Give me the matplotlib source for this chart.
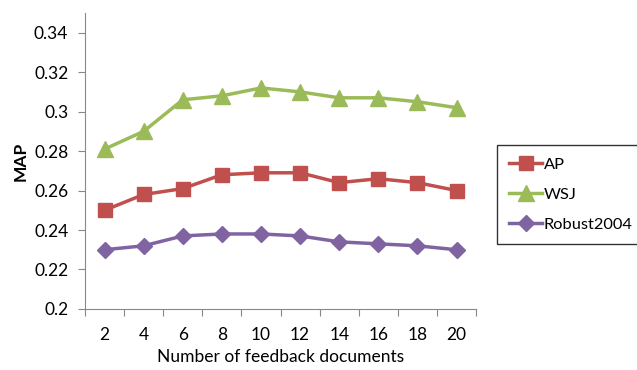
import numpy as np
import matplotlib.pyplot as plt

plt.rcParams['font.family'] = ['Lato', 'DejaVu Sans']

# MAP vs number of feedback documents
docs = [2, 4, 6, 8, 10, 12, 14, 16, 18, 20]
ap = [0.250, 0.258, 0.261, 0.268, 0.269, 0.269, 0.264, 0.266, 0.264, 0.260]
wsj = [0.281, 0.290, 0.306, 0.308, 0.312, 0.310, 0.307, 0.307, 0.305, 0.302]
robust = [0.230, 0.232, 0.237, 0.238, 0.238, 0.237, 0.234, 0.233, 0.232, 0.230]
y_ticks = [0.2, 0.22, 0.24, 0.26, 0.28, 0.3, 0.32, 0.34]
y_labels = ['0.2', '0.22', '0.24', '0.26', '0.28', '0.3', '0.32', '0.34']

fig = plt.figure(figsize=(6.37, 3.70), dpi=100)
ax = fig.add_axes([0.1334, 0.165, 0.614, 0.80])

x = np.arange(len(docs))
ax.plot(x, ap, color='#C0504D', lw=2.5, marker='s', ms=10, label='AP')
ax.plot(x, wsj, color='#9BBB59', lw=2.5, marker='^', ms=11, label='WSJ')
ax.plot(x, robust, color='#8064A2', lw=2.5, marker='D', ms=8.5, label='Robust2004')

ax.set_xlim(-0.5, len(docs) - 0.5)
ax.set_ylim(0.2, 0.35)
ax.set_yticks(y_ticks)
ax.set_yticklabels(y_labels)
# category axis: ticks sit between categories, labels in the middle
ax.set_xticks(np.arange(len(docs) + 1) - 0.5)
ax.set_xticklabels([])
ax.set_xticks(x, minor=True)
ax.set_xticklabels([str(d) for d in docs], minor=True)
ax.tick_params(axis='x', which='minor', length=0, pad=13, labelsize=12.5)
ax.tick_params(axis='x', which='major', length=5, color='#888888', direction='out')
ax.tick_params(axis='y', length=5, color='#888888', labelsize=12.5, pad=7)

for s in ['top', 'right']:
    ax.spines[s].set_visible(False)
for s in ['left', 'bottom']:
    ax.spines[s].set_color('#888888')

ax.set_xlabel('Number of feedback documents', fontsize=12.5, labelpad=4)
ax.set_ylabel('MAP', fontsize=12.5, fontweight='bold', labelpad=4)

leg = fig.legend(loc='lower left', bbox_to_anchor=(0.78, 0.34), fontsize=11.8,
                 frameon=True, fancybox=False, edgecolor='black',
                 handlelength=2.0, handletextpad=0.1, borderpad=0.75, labelspacing=0.95,
                 borderaxespad=0)
leg.get_frame().set_linewidth(1.0)

fig.savefig('out.png', dpi=100)
